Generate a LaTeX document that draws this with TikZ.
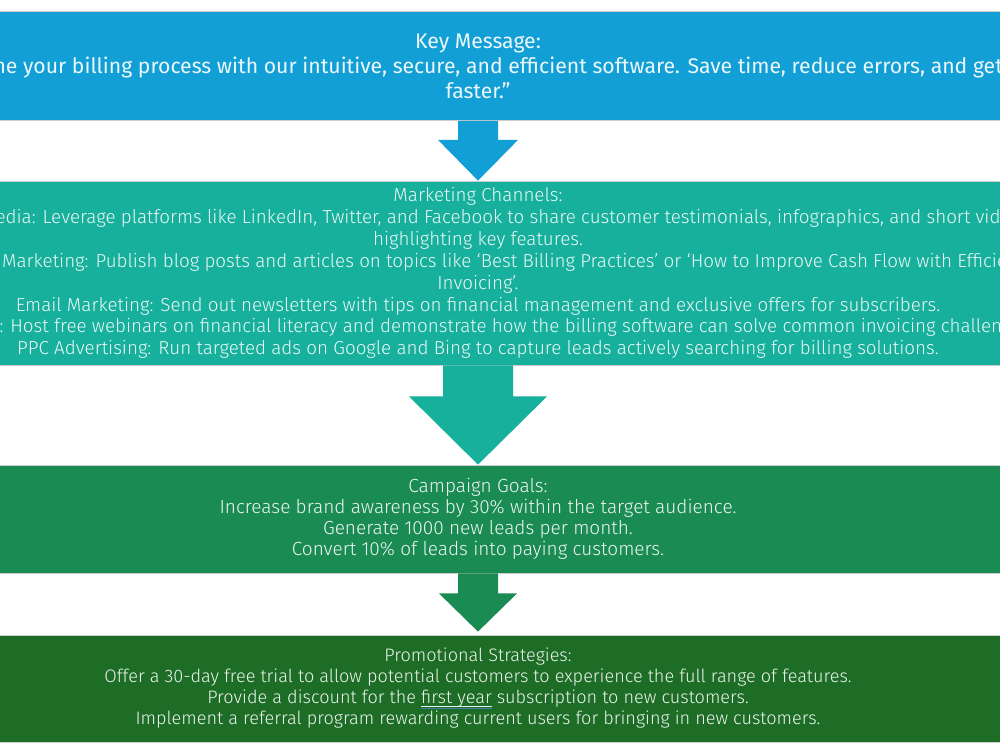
\documentclass[tikz,border=0pt]{standalone}
\usepackage{fontspec}
\setmainfont{Fira Sans}
\newfontfamily\lightfont{Fira Sans Light}
\newfontfamily\medfont{Fira Sans}
\usetikzlibrary{calc}
\definecolor{cblue}{HTML}{119FD6}
\definecolor{cteal}{HTML}{16B09D}
\definecolor{cgreen}{HTML}{1B8B54}
\definecolor{cdark}{HTML}{1D6D26}
\definecolor{markblue}{HTML}{4A7FC0}
\newsavebox\spellbox
\newcommand\spellul[1]{\sbox\spellbox{#1}\rlap{\color{white}\rule[-2.5pt]{\wd\spellbox}{0.7pt}}\rlap{\color{markblue}\rule[-5.5pt]{\wd\spellbox}{1.8pt}}\usebox\spellbox}
\begin{document}
\begin{tikzpicture}[x=1pt,y=-1pt,
  stage/.style={draw=white!80!black, line width=0.8pt, minimum width=1400pt, align=center,
    text=white, text opacity=0.92, inner sep=0pt},
]
\useasboundingbox (0,0) rectangle (1000,750);
\clip (0,0) rectangle (1000,750);
\fill[white] (0,0) rectangle (1000,750);

\node[stage, fill=cblue, minimum height=109pt,
  font=\medfont\fontsize{21.2}{25}\selectfont] (km) at (478,66)
  {Key Message:\\
   “Streamline your billing process with our intuitive, secure, and efficient software. Save time, reduce errors, and get paid\\
   faster.”};

\node[stage, fill=cteal, minimum height=184pt,
  font=\lightfont\fontsize{18.8}{21.9}\selectfont] (mc) at (478,273)
  {Marketing Channels:\\
   Social Media: Leverage platforms like LinkedIn, Twitter, and Facebook to share customer testimonials, infographics, and short videos\\
   highlighting key features.\\
   Content Marketing: Publish blog posts and articles on topics like ‘Best Billing Practices’ or ‘How to Improve Cash Flow with Efficient\\
   Invoicing’.\\
   Email Marketing: Send out newsletters with tips on financial management and exclusive offers for subscribers.\\
   Webinars: Host free webinars on financial literacy and demonstrate how the billing software can solve common invoicing challenges.\\
   PPC Advertising: Run targeted ads on Google and Bing to capture leads actively searching for billing solutions.};

\node[stage, fill=cgreen, minimum height=108pt,
  font=\lightfont\fontsize{19}{21}\selectfont] (cg) at (478,519)
  {Campaign Goals:\\
   Increase brand awareness by 30\% within the target audience.\\
   Generate 1000 new leads per month.\\
   Convert 10\% of leads into paying customers.};

\node[stage, fill=cdark, minimum height=107pt,
  font=\lightfont\fontsize{18.1}{21}\selectfont] (ps) at (478,688.5)
  {Promotional Strategies:\\
   Offer a 30-day free trial to allow potential customers to experience the full range of features.\\
   Provide a discount for the \spellul{first year} subscription to new customers.\\
   Implement a referral program rewarding current users for bringing in new customers.};

% arrows
\fill[cblue] ([xshift=-20pt]km.south) -- ([xshift=-20pt,yshift=-19pt]km.south)
  -- ([xshift=-40pt,yshift=-19pt]km.south) -- (mc.north)
  -- ([xshift=40pt,yshift=-19pt]km.south) -- ([xshift=20pt,yshift=-19pt]km.south)
  -- ([xshift=20pt]km.south) -- cycle;
\fill[cteal] ([xshift=-35pt]mc.south) -- ([xshift=-35pt,yshift=-31pt]mc.south)
  -- ([xshift=-69pt,yshift=-31pt]mc.south) -- (cg.north)
  -- ([xshift=69pt,yshift=-31pt]mc.south) -- ([xshift=35pt,yshift=-31pt]mc.south)
  -- ([xshift=35pt]mc.south) -- cycle;
\fill[cgreen] ([xshift=-20pt]cg.south) -- ([xshift=-20pt,yshift=-20pt]cg.south)
  -- ([xshift=-39pt,yshift=-20pt]cg.south) -- ([yshift=3pt]ps.north)
  -- ([xshift=39pt,yshift=-20pt]cg.south) -- ([xshift=20pt,yshift=-20pt]cg.south)
  -- ([xshift=20pt]cg.south) -- cycle;
\end{tikzpicture}
\end{document}
